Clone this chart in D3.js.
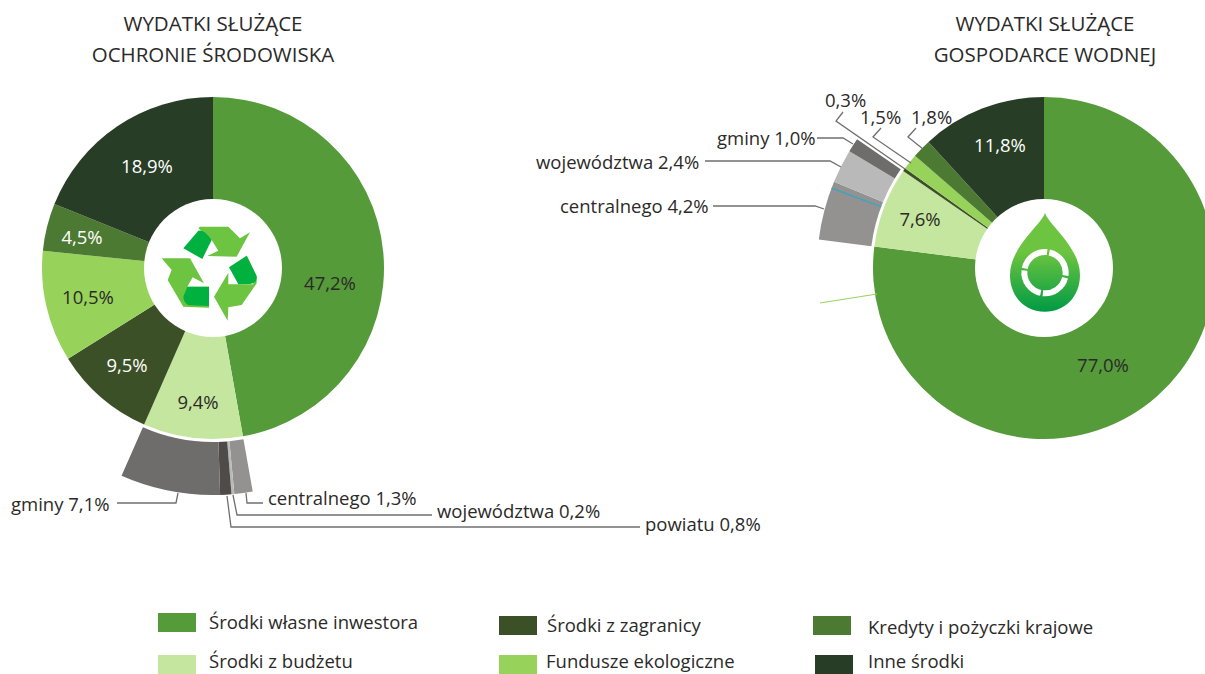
<!DOCTYPE html>
<html><head><meta charset="utf-8">
<script src="https://cdn.jsdelivr.net/npm/d3@7/dist/d3.min.js"></script>
<style>html,body{margin:0;padding:0;background:#fff;overflow:hidden}svg{display:block}text{font-family:"Open Sans",sans-serif;fill:#2b2a29}</style>
</head><body><svg id="c" width="1205" height="674"></svg>
<script>
const seriesNames=["Środki własne inwestora","Środki z budżetu","Środki z zagranicy","Fundusze ekologiczne","Kredyty i pożyczki krajowe","Inne środki"];
const seriesColors=["#559b3a","#c5e69e","#3c5028","#97d35a","#4d7a32","#283d25"];
const envValues=[47.2,9.4,9.5,10.5,4.5,18.9];
const waterValues=[77.0,7.6,0.3,1.5,1.8,11.8];
const envLabels=["47,2%","9,4%","9,5%","10,5%","4,5%","18,9%"];
const waterLabels=["77,0%","7,6%","","","","11,8%"];
const envBudget=[["centralnego",1.3,"#939291"],["województwa",0.2,"#b9b9b9"],["powiatu",0.8,"#4f4b48"],["gminy",7.1,"#6e6d6b"]];
const waterBudget=[["centralnego",4.2,"#939291"],["województwa",2.4,"#b9b9b9"],["gminy",1.0,"#6e6d6b"]];
const waterBlueLineAt=3.72;
const svg=d3.select("#c");
const R=171,r0=69,r1=174,r2=227;
const pct=d3.scaleLinear().domain([0,100]).range([0,2*Math.PI]);
const arc=d3.arc();
function slices(vals){let c=0;return vals.map((v,i)=>{const s={i,v,a0:pct(c),a1:pct(c+v)};c+=v;return s;});}
function drawPie(cx,cy,vals,labels,budget){
  const g=svg.append("g").attr("transform",`translate(${cx},${cy})`);
  const ss=slices(vals);
  g.selectAll("path.s").data(ss).join("path").attr("class","s").attr("fill",d=>seriesColors[d.i])
    .attr("d",d=>arc({innerRadius:0,outerRadius:R,startAngle:d.a0,endAngle:d.a1}));
  g.append("circle").attr("r",r0).attr("fill","#fff");
  let c=vals[0];
  const bud=budget.map(b=>{const o={name:b[0],v:b[1],col:b[2],a0:pct(c),a1:pct(c+b[1])};c+=b[1];return o;});
  g.selectAll("path.b").data(bud).join("path").attr("class","b").attr("fill",d=>d.col)
    .attr("d",d=>arc({innerRadius:r1,outerRadius:r2,startAngle:d.a0,endAngle:d.a1}));
  return {g,ss,labels};
}
function pieLabels(p,pos){
  p.g.selectAll("text.v").data(p.ss.filter(d=>p.labels[d.i])).join("text").attr("class","v")
    .attr("text-anchor","middle").attr("font-size",18.5)
    .style("fill",d=>(d.i===0||d.i===1||d.i===3)?"#2b2a29":"#fff")
    .attr("x",d=>pos[d.i][0]).attr("y",d=>pos[d.i][1]+6).text(d=>p.labels[d.i]);
}
const left=drawPie(213,268,envValues,envLabels,envBudget);
const right=drawPie(1044,268,waterValues,waterLabels,waterBudget);
pieLabels(left,[[117,16],[-15,135],[-86,98],[-125,30],[-131,-30],[-66,-101]]);
pieLabels(right,[[59,98],[-124,-48],[0,0],[0,0],[0,0],[-44,-122]]);
const ba=pct(waterValues[0]+waterBlueLineAt);
right.g.append("line").attr("stroke","#2fa8c8").attr("stroke-width",1.2)
  .attr("x1",r1*Math.sin(ba)).attr("y1",-r1*Math.cos(ba)).attr("x2",r2*Math.sin(ba)).attr("y2",-r2*Math.cos(ba));
const titles=[[213,["WYDATKI SŁUŻĄCE","OCHRONIE ŚRODOWISKA"]],[1045,["WYDATKI SŁUŻĄCE","GOSPODARCE WODNEJ"]]];
titles.forEach(t=>t[1].forEach((s,i)=>svg.append("text").attr("x",t[0]).attr("y",31+i*31).attr("text-anchor","middle").attr("font-size",20.5).text(s)));
const leaders=[
 [[117,503],[176,503],[178,493]],[[246,493],[247,503],[263,503]],[[233,495],[237,515],[432,515]],[[227,496],[231,527],[640,527]],
 [[843,112],[836,121],[905,169]],[[881,128],[873,137],[911,163]],[[916,128],[908,137],[923,149]],
 [[817,138],[843,138],[853,144]],[[705,161],[830,161],[841,167]],[[713,206],[815,206],[824,209]]];
const line=d3.line();
svg.selectAll("path.l").data(leaders).join("path").attr("class","l").attr("fill","none").attr("stroke","#706f6f").attr("stroke-width",1.3).attr("d",line);
svg.append("path").attr("fill","none").attr("stroke","#97d35a").attr("stroke-width",1).attr("d",line([[820,303],[877,294]]));
const outside=[["gminy 7,1%",11,511],["centralnego 1,3%",268,505],["województwa 0,2%",437,518],["powiatu 0,8%",645,531],
 ["0,3%",825,107],["1,5%",860,124],["1,8%",911,124],["gminy 1,0%",717,145],["województwa 2,4%",536,169],["centralnego 4,2%",560,213]];
svg.selectAll("text.o").data(outside).join("text").attr("class","o").attr("x",d=>d[1]).attr("y",d=>d[2]).attr("font-size",18.5).text(d=>d[0]);
const legPos=[[158,613],[158,655],[499,616],[499,655],[813,616],[815,655]];
const txtPos=[[209,629],[209,668],[547,632],[546,668],[868,634],[868,668]];
seriesNames.forEach((n,i)=>{
 svg.append("rect").attr("x",legPos[i][0]).attr("y",legPos[i][1]).attr("width",38).attr("height",19).attr("fill",seriesColors[i]);
 svg.append("text").attr("x",txtPos[i][0]).attr("y",txtPos[i][1]).attr("font-size",18.5).text(n);
});
const ic=svg.append("g").attr("transform","translate(130,190) scale(0.3333)");
const pLight=["M210,110L295,110L330,145L360,127L320,200L232,198L265,182L245,150L205,115Z",
 "M95,205L180,205L222,280L188,262L172,290L237,290L237,353L160,350L113,270L125,240Z",
 "M350,195L380,260L380,280L335,345L295,352L293,392L252,320L295,248L295,283L370,283Z"];
const pDark=["M205,122Q222,118 245,150L217,207L160,175Z","M172,290L237,290L237,348L180,346Q160,340 160,320Z","M297,232L350,197L380,258Q382,280 360,282L325,283Z"];
pLight.forEach(d=>ic.append("path").attr("d",d).attr("fill","#6cc440"));
pDark.forEach(d=>ic.append("path").attr("d",d).attr("fill","#00b140"));
const defs=svg.append("defs");
const gr=defs.append("linearGradient").attr("id","dg").attr("x1",0).attr("x2",0).attr("y1",0).attr("y2",1);
gr.append("stop").attr("offset","0.4").attr("stop-color","#6cc440");
gr.append("stop").attr("offset","1").attr("stop-color","#009a44");
const dr=svg.append("g").attr("transform","translate(970,200) scale(0.3333)");
dr.append("path").attr("fill","url(#dg)").attr("d","M225,38C232,70 330,140 330,225C330,290 285,335 225,335C165,335 120,290 120,225C120,140 218,70 225,38Z");
const rg=dr.append("g").attr("transform","translate(225,218)");
[[12,98],[104,186],[192,276],[282,366]].forEach(a=>rg.append("path").attr("fill","#fff")
 .attr("d",arc({innerRadius:53,outerRadius:71,startAngle:a[0]*Math.PI/180,endAngle:a[1]*Math.PI/180})));
</script></body></html>
